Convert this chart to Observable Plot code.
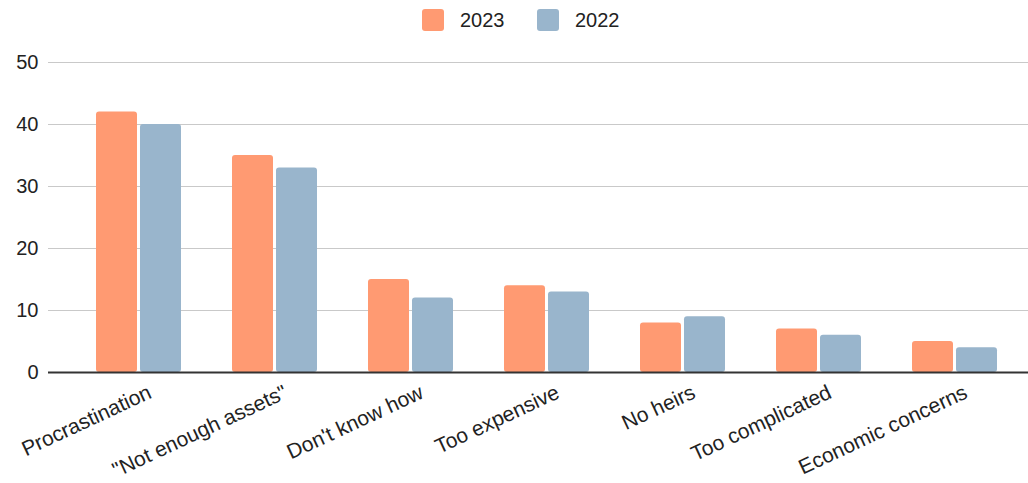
<!DOCTYPE html>
<html>
<head>
<meta charset="utf-8">
<script src="https://cdn.jsdelivr.net/npm/d3@7"></script>
<script src="https://cdn.jsdelivr.net/npm/@observablehq/plot@0.6"></script>
<style>
  body { margin: 0; background: #fff; font-family: "Liberation Sans", Arial, sans-serif; }
  #legend { height: 40px; position: relative; }
  .item { position: absolute; top: 9px; height: 22px; display: flex; align-items: center; font-size: 20px; color: #222; }
  .sw { width: 22px; height: 22px; border-radius: 3px; margin-right: 16px; }
</style>
</head>
<body>
<div id="legend"></div>
<div id="chart"></div>
<script>
const categories = ["Procrastination", "\"Not enough assets\"", "Don't know how", "Too expensive", "No heirs", "Too complicated", "Economic concerns"];
const values2023 = [42, 35, 15, 14, 8, 7, 5];
const values2022 = [40, 33, 12, 13, 9, 6, 4];
const years = ["2023", "2022"];
const colors = ["#ff9a72", "#99b5cc"];
const yTicks = [0, 10, 20, 30, 40, 50];

const data = categories.flatMap((c, i) => [
  {cat: c, year: "2023", value: values2023[i]},
  {cat: c, year: "2022", value: values2022[i]}
]);

// legend
const legend = document.getElementById("legend");
const lefts = [422, 537];
years.forEach((y, i) => {
  const it = document.createElement("div");
  it.className = "item";
  it.style.left = lefts[i] + "px";
  it.innerHTML = `<div class="sw" style="background:${colors[i]}"></div><span>${y}</span>`;
  legend.appendChild(it);
});

const gap = 44; // bandwidth minus bar width
const chart = Plot.plot({
  width: 1028,
  height: 443,
  marginLeft: 70,
  marginRight: 6,
  marginTop: 22,
  marginBottom: 111,
  style: {fontFamily: "Liberation Sans, Arial, sans-serif", background: "#fff"},
  x: {domain: categories, paddingInner: 0.375, paddingOuter: 0.1875, label: null},
  y: {domain: [0, 50], ticks: yTicks, label: null},
  color: {domain: years, range: colors},
  marks: [
    Plot.ruleY(yTicks.filter(d => d > 0), {stroke: "#c9c9c9", strokeWidth: 1.2, insetLeft: -22, insetRight: -6}),
    Plot.barY(data.filter(d => d.year === "2023"), {x: "cat", y: "value", fill: "year", insetRight: gap, rx: 3}),
    Plot.barY(data.filter(d => d.year === "2022"), {x: "cat", y: "value", fill: "year", insetLeft: gap, rx: 3}),
    Plot.ruleY([0], {stroke: "#333", strokeWidth: 2, insetLeft: -22, insetRight: -6}),
    Plot.axisY({ticks: yTicks, tickSize: 0, tickPadding: 32, fontSize: 20, label: null, color: "#222"}),
    Plot.axisX({tickSize: 0, tickRotate: -25, fontSize: 21, dx: 11, dy: 6, label: null, color: "#222"})
  ]
});
document.getElementById("chart").appendChild(chart);
</script>
</body>
</html>
